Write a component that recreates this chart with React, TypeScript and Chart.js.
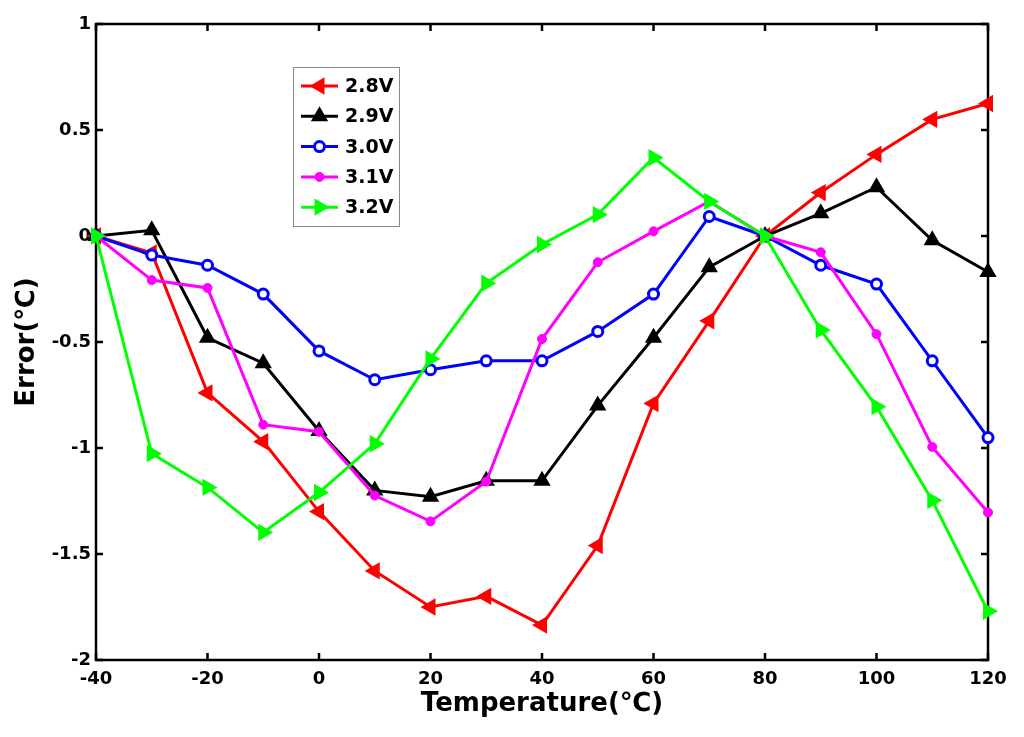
import React, { useEffect, useRef } from 'react'
import { Chart, registerables } from 'chart.js'
import { drawPoint } from 'chart.js/helpers'

Chart.register(...registerables)

// temperatures on the x axis
const temps = [-40, -30, -20, -10, 0, 10, 20, 30, 40, 50, 60, 70, 80, 90, 100, 110, 120]

const v28 = [0, -0.08, -0.74, -0.97, -1.3, -1.58, -1.75, -1.7, -1.835, -1.46, -0.79, -0.4, 0, 0.205, 0.385, 0.55, 0.625]
const v29 = [0, 0.027, -0.48, -0.6, -0.92, -1.2, -1.23, -1.155, -1.155, -0.8, -0.48, -0.147, 0, 0.107, 0.23, -0.02, -0.17]
const v30 = [0, -0.09, -0.138, -0.274, -0.542, -0.678, -0.631, -0.589, -0.589, -0.45, -0.274, 0.092, 0, -0.138, -0.227, -0.589, -0.951]
const v31 = [0, -0.208, -0.245, -0.89, -0.923, -1.224, -1.346, -1.158, -0.486, -0.124, 0.022, 0.163, 0, -0.077, -0.463, -0.995, -1.304]
const v32 = [0, -1.026, -1.186, -1.398, -1.21, -0.98, -0.58, -0.223, -0.04, 0.101, 0.37, 0.163, 0, -0.443, -0.805, -1.247, -1.77]

const seriesNames = ['2.8V', '2.9V', '3.0V', '3.1V', '3.2V']
const seriesValues = [v28, v29, v30, v31, v32]
const seriesColors = ['#ff0000', '#000000', '#0000ff', '#ff00ff', '#00ff00']

const FONT = '"DejaVu Sans", "Liberation Sans", Arial, sans-serif'

const markerStyles = [
    { pointStyle: 'triangle', rotation: -90, radius: 8, borderWidth: 2, fill: '#ff0000' },
    { pointStyle: 'triangle', rotation: 0, radius: 8, borderWidth: 2, fill: '#000000' },
    { pointStyle: 'circle', rotation: 0, radius: 5, borderWidth: 3, fill: '#ffffff' },
    { pointStyle: 'circle', rotation: 0, radius: 4.5, borderWidth: 1, fill: '#ff00ff' },
    { pointStyle: 'triangle', rotation: 90, radius: 8, borderWidth: 2, fill: '#00ff00' },
]

// box around the plot with inward ticks on all sides
const boxPlugin = {
    id: 'box',
    beforeDatasetsDraw(chart: any) {
        const { ctx, chartArea: a, scales } = chart
        ctx.save()
        ctx.strokeStyle = '#000'
        ctx.lineWidth = 2.5
        ctx.strokeRect(a.left, a.top, a.right - a.left, a.bottom - a.top)
        const len = 7
        ctx.beginPath()
        scales.x.ticks.forEach((t: any) => {
            const px = scales.x.getPixelForValue(t.value)
            ctx.moveTo(px, a.bottom); ctx.lineTo(px, a.bottom - len)
            ctx.moveTo(px, a.top); ctx.lineTo(px, a.top + len)
        })
        scales.y.ticks.forEach((t: any) => {
            const py = scales.y.getPixelForValue(t.value)
            ctx.moveTo(a.left, py); ctx.lineTo(a.left + len, py)
            ctx.moveTo(a.right, py); ctx.lineTo(a.right - len, py)
        })
        ctx.stroke()
        ctx.restore()
    },
}

const legendPlugin = {
    id: 'boxLegend',
    afterDraw(chart: any) {
        const { ctx } = chart
        const x0 = 293, y0 = 67, w = 106, h = 159
        ctx.save()
        ctx.fillStyle = '#fff'
        ctx.fillRect(x0, y0, w, h)
        ctx.strokeStyle = '#8a8a8a'
        ctx.lineWidth = 1
        ctx.strokeRect(x0 + 0.5, y0 + 0.5, w, h)
        chart.data.datasets.forEach((ds: any, i: number) => {
            const y = 86 + i * 30.3
            const m = markerStyles[i]
            ctx.strokeStyle = ds.borderColor
            ctx.lineWidth = 3
            ctx.beginPath()
            ctx.moveTo(301, y)
            ctx.lineTo(338, y)
            ctx.stroke()
            ctx.fillStyle = m.fill
            ctx.strokeStyle = ds.borderColor
            ctx.lineWidth = m.borderWidth
            drawPoint(ctx, { pointStyle: m.pointStyle, rotation: m.rotation, radius: m.radius, borderWidth: m.borderWidth } as any, 319.5, y)
            ctx.fillStyle = '#000'
            ctx.font = 'bold 19px ' + FONT
            ctx.textAlign = 'left'
            ctx.textBaseline = 'middle'
            ctx.fillText(ds.label, 345, y + 1)
        })
        ctx.restore()
    },
}

const App = () => {
    const canvasRef = useRef<HTMLCanvasElement>(null)

    useEffect(() => {
        if (canvasRef.current == null) return
        const datasets = seriesNames.map((name, i) => ({
            label: name,
            data: temps.map((t, j) => ({ x: t, y: seriesValues[i][j] })),
            borderColor: seriesColors[i],
            backgroundColor: markerStyles[i].fill,
            borderWidth: 3,
            pointStyle: markerStyles[i].pointStyle,
            rotation: markerStyles[i].rotation,
            pointRadius: markerStyles[i].radius,
            pointBorderWidth: markerStyles[i].borderWidth,
            pointBorderColor: seriesColors[i],
            pointBackgroundColor: markerStyles[i].fill,
            tension: 0,
            clip: false as any,
            order: 4 - i,
        }))

        const myChart = new Chart(canvasRef.current, {
            type: 'line',
            data: { datasets },
            options: {
                responsive: false,
                animation: false,
                layout: { padding: { top: 24, right: 36, left: 0, bottom: 0 } },
                plugins: {
                    legend: { display: false },
                    tooltip: { enabled: false },
                },
                scales: {
                    x: {
                        type: 'linear',
                        min: -40,
                        max: 120,
                        grid: { display: false, drawTicks: false },
                        border: { display: false },
                        afterFit: (s: any) => { s.height = 77 },
                        ticks: {
                            stepSize: 20,
                            padding: 9,
                            color: '#000',
                            font: { family: FONT, size: 18, weight: 'bold' },
                            maxRotation: 0,
                        },
                        title: {
                            display: true,
                            text: 'Temperature(℃)',
                            color: '#000',
                            font: { family: FONT, size: 26, weight: 'bold' },
                            padding: { top: 0, bottom: 17 },
                        },
                    },
                    y: {
                        min: -2,
                        max: 1,
                        grid: { display: false, drawTicks: false },
                        border: { display: false },
                        afterFit: (s: any) => { s.width = 96 },
                        ticks: {
                            stepSize: 0.5,
                            padding: 5,
                            color: '#000',
                            font: { family: FONT, size: 18, weight: 'bold' },
                            callback: (v: any) => String(Math.round(Number(v) * 10) / 10),
                        },
                        title: {
                            display: true,
                            text: 'Error(℃)',
                            color: '#000',
                            font: { family: FONT, size: 26, weight: 'bold' },
                            padding: { top: 12, bottom: 0 },
                        },
                    },
                },
            },
            plugins: [boxPlugin, legendPlugin],
        })

        return () => {
            myChart.destroy()
        }
    }, [])

    return (
        <div style={{ position: 'absolute', left: 0, top: 0, width: 1024, height: 737, background: '#fff' }}>
            <canvas ref={canvasRef} width={1024} height={737} style={{ width: 1024, height: 737 }}></canvas>
        </div>
    )
}

export default App
